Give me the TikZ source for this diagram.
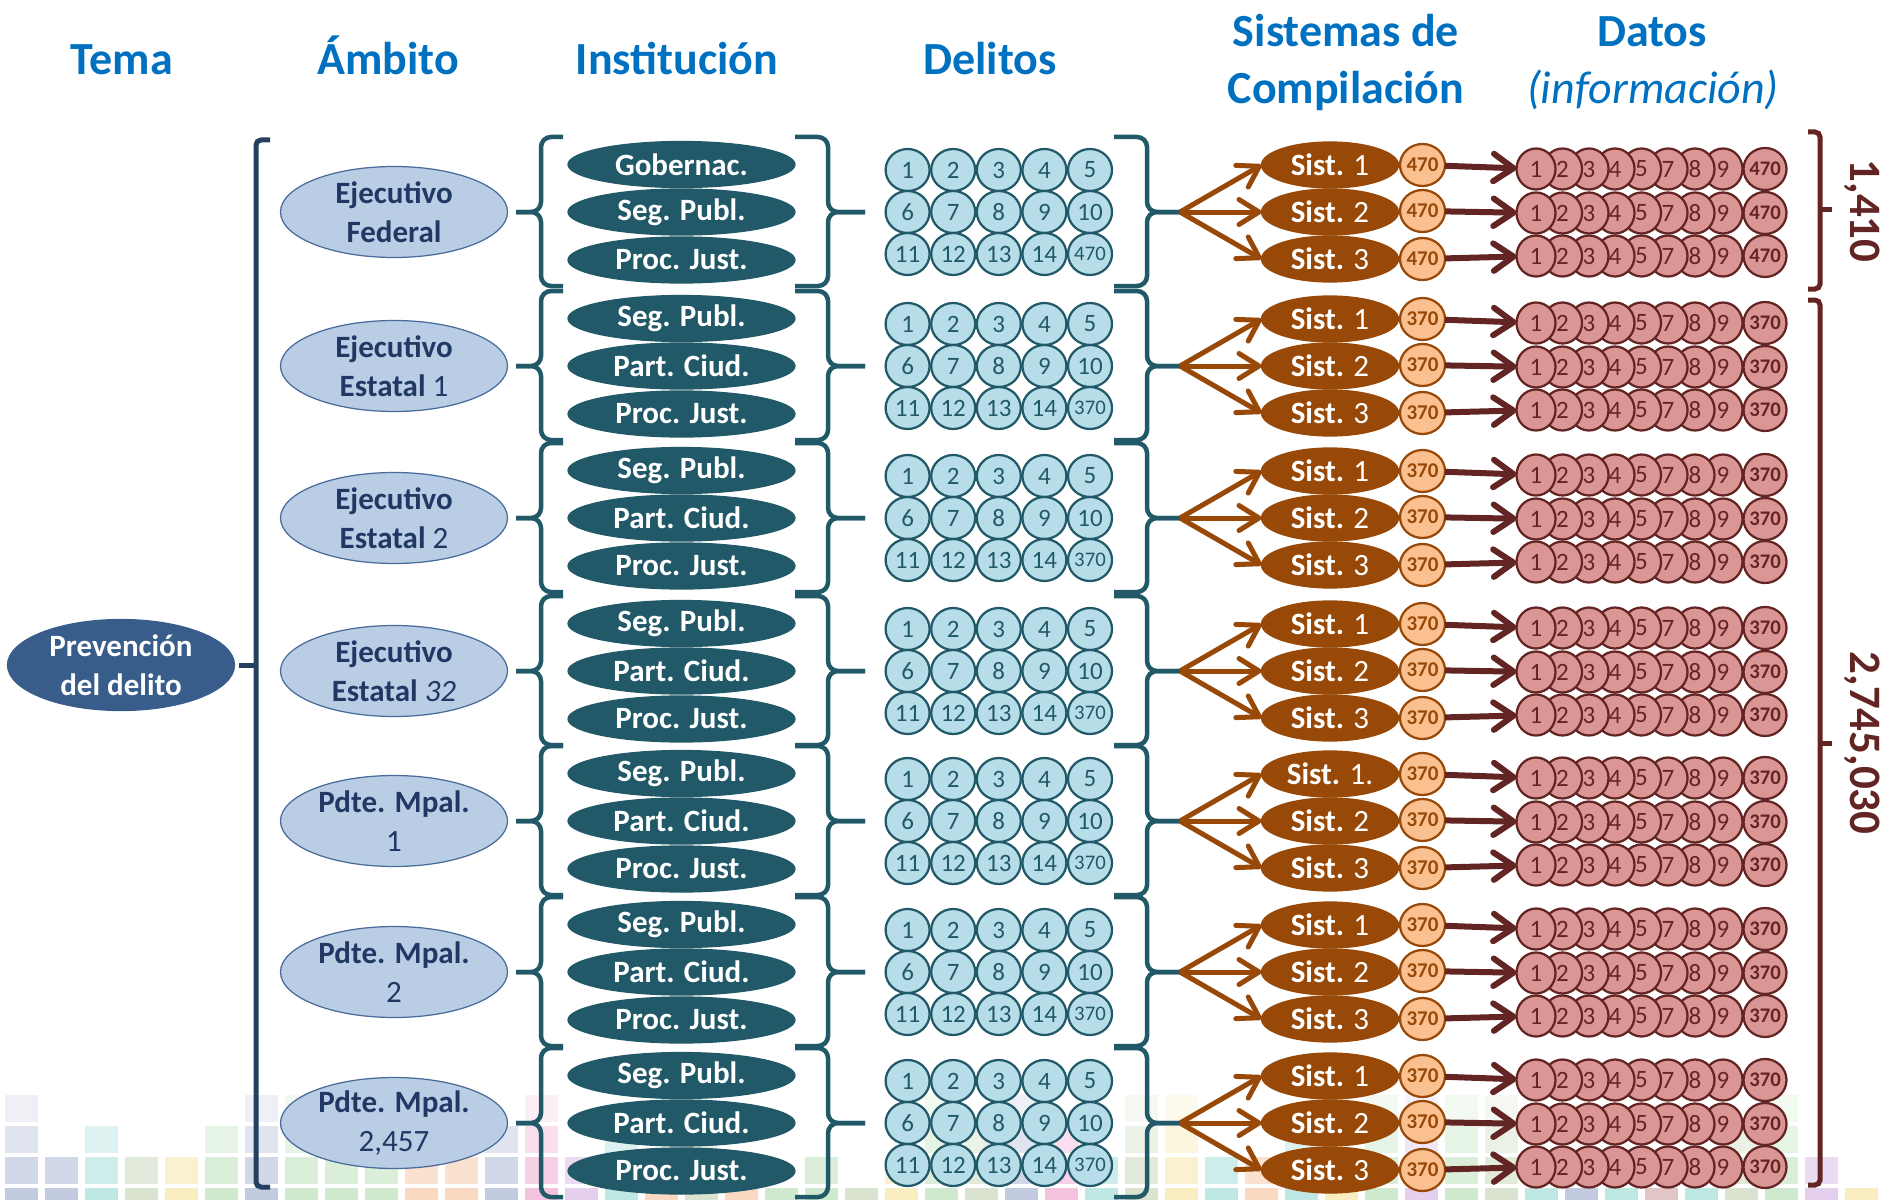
\documentclass[tikz,border=0pt]{standalone}
\usepackage{fontspec}
\setmainfont{Carlito}
\usetikzlibrary{shapes.geometric,arrows.meta}
\definecolor{hdrblue}{HTML}{0070C0}
\definecolor{navy}{HTML}{1F3864}
\definecolor{bignavy}{HTML}{243F60}
\definecolor{ambfill}{HTML}{B9CDE5}
\definecolor{ambline}{HTML}{4A6C9B}
\definecolor{prevfill}{HTML}{385D8A}
\definecolor{instfill}{HTML}{215968}
\definecolor{delfill}{HTML}{B7DEE8}
\definecolor{delline}{HTML}{215968}
\definecolor{sistfill}{HTML}{984807}
\definecolor{orfill}{HTML}{FAC090}
\definecolor{maroon}{HTML}{632523}
\definecolor{datfill}{HTML}{D99694}
\definecolor{mz1}{HTML}{8496C0}
\definecolor{mz2}{HTML}{E884B8}
\definecolor{mz3}{HTML}{9ED39E}
\definecolor{mz4}{HTML}{F4B183}
\definecolor{mz5}{HTML}{C9A0DC}
\definecolor{mz6}{HTML}{7FCFC9}
\definecolor{mz7}{HTML}{F2DC82}
\definecolor{mz8}{HTML}{C48A8A}
\definecolor{mz9}{HTML}{B4C7A0}
\begin{document}
\begin{tikzpicture}[x=0.4pt,y=-0.4pt,
  hdr/.style={text=hdrblue,font=\fontsize{18.4}{22}\selectfont\bfseries,anchor=base,inner sep=0pt},
  ell/.style={ellipse,inner sep=-30pt,outer sep=0pt},
  amb/.style={ell,draw=ambline,line width=0.5pt,fill=ambfill,minimum width=90.8pt,minimum height=36.4pt,
    text=navy,font=\fontsize{12.4}{15.6}\selectfont\bfseries,align=center},
  inst/.style={ell,draw=instfill,line width=0.5pt,fill=instfill,minimum width=90.8pt,minimum height=18.4pt,
    text=white,font=\fontsize{12.4}{14}\selectfont\bfseries},
  del/.style={ell,draw=delline,line width=0.9pt,fill=delfill,minimum width=17.6pt,minimum height=16.8pt,
    text=delline,font=\fontsize{10}{12}\selectfont},
  delsmall/.style={del,font=\fontsize{8.3}{10}\selectfont},
  sist/.style={ell,draw=sistfill,line width=0.5pt,fill=sistfill,minimum width=54.8pt,minimum height=18.4pt,
    text=white,font=\fontsize{12.4}{14}\selectfont\bfseries},
  orn/.style={ell,draw=sistfill,line width=0.9pt,fill=orfill,minimum width=18pt,minimum height=16.8pt,
    text=sistfill,font=\fontsize{8.4}{10}\selectfont\bfseries},
  dat/.style={ell,draw=maroon,line width=0.9pt,fill=datfill,minimum width=15.6pt,minimum height=16.4pt,
    text=maroon,font=\fontsize{10}{12}\selectfont},
  datsmall/.style={dat,minimum width=17.2pt,minimum height=16.8pt,font=\fontsize{8.3}{10}\selectfont\bfseries},
  bigbr/.style={draw=bignavy,line width=2pt,rounded corners=2pt},
  brc/.style={draw=delline,line width=1.8pt,rounded corners=4pt},
  mbr/.style={draw=maroon,line width=2pt,rounded corners=2pt},
  mlab/.style={text=maroon,font=\fontsize{18}{20}\selectfont\bfseries,inner sep=0pt},
  barr/.style={draw=sistfill,line width=2pt,-{Straight Barb[length=8pt,width=10pt,round]}},
  marr/.style={draw=maroon,line width=2.4pt,-{Straight Barb[length=8pt,width=11pt,round]}}
]
\useasboundingbox (0,0) rectangle (1885,1199);
% background mosaic
\pgfmathsetseed{12}
\foreach \i in {0,...,46} {
  \pgfmathrandominteger{\cc}{1}{9}
  \pgfmathrandominteger{\hh}{1}{4}
  \foreach \r in {1,...,4} {
    \ifnum\r>\numexpr4-\hh\relax
      \pgfmathsetmacro{\op}{0.02+0.12*\r}
      \fill[mz\cc,fill opacity=\op] (5+40*\i,1064+31*\r) rectangle ++(33,27);
    \fi
  }
}
% headers
\node[hdr] (hTema) at (122,75) {Tema};
\node[hdr] (hAmb) at (388,75) {Ámbito};
\node[hdr] (hInst) at (677,75) {Institución};
\node[hdr] (hDel) at (990,75) {Delitos};
\node[hdr] (hSisA) at (1346,47) {Sistemas de};
\node[hdr] (hSisB) at (1346,104) {Compilación};
\node[hdr] (hDatA) at (1652,47) {Datos};
\node[hdr,font=\fontsize{18.4}{22}\selectfont\itshape] (hDatB) at (1653,104) {(información)};
% tema
\node[amb,fill=prevfill,draw=prevfill,text=white] (prev) at (121,665) {Prevención\\del delito};
\coordinate (bigmid) at (256,665);
\draw[bigbr] (270,140) -- (256,140) -- (256,1187) -- (270,1187);
\draw[bigbr] (prev.east) ++(1.8pt,0) -- (bigmid);
% groups
\foreach \g/\c/\aA/\aB/\iA/\iB/\n/\sA in {
  1/212/{Ejecutivo}/{Federal}/{Gobernac.}/{Seg. Publ.}/470/{1},
  2/366/{Ejecutivo}/{Estatal \textmd{1}}/{Seg. Publ.}/{Part. Ciud.}/370/{1},
  3/518/{Ejecutivo}/{Estatal \textmd{2}}/{Seg. Publ.}/{Part. Ciud.}/370/{1},
  4/671/{Ejecutivo}/{Estatal \textmd{\itshape 32}}/{Seg. Publ.}/{Part. Ciud.}/370/{1},
  5/821/{Pdte. Mpal.}/{\textmd{1}}/{Seg. Publ.}/{Part. Ciud.}/370/{1.},
  6/972/{Pdte. Mpal.}/{\textmd{2}}/{Seg. Publ.}/{Part. Ciud.}/370/{1},
  7/1123/{Pdte. Mpal.}/{\textmd{2,457}}/{Seg. Publ.}/{Part. Ciud.}/370/{1}} {
  % ambito
  \node[amb] (amb\g) at (394,\c) {\aA\\\aB};
  % institution braces
  \draw[brc] (563,\c-75) -- (541,\c-75) -- (541,\c) -- (516,\c);
  \draw[brc] (563,\c+74) -- (541,\c+74) -- (541,\c) -- (516,\c);
  \draw[brc] (795,\c-75) -- (828,\c-75) -- (828,\c) -- (865,\c);
  \draw[brc] (795,\c+74) -- (828,\c+74) -- (828,\c) -- (865,\c);
  \node[inst] (ins\g-0) at (681.5,\c-47.5) {\iA};
  \node[inst] (ins\g-1) at (681.5,\c) {\iB};
  \node[inst] (ins\g-2) at (681.5,\c+48) {Proc. Just.};
  % delitos
  \foreach \r/\dy in {0/-42,1/0,2/42} {
    \foreach \k in {1,...,5} {
      \pgfmathtruncatemacro{\lab}{\r*5+\k}
      \ifnum\lab=15
        \node[delsmall] (del\g-\r-\k) at (862+45.6*\k,\c+\dy) {\n};
      \else
        \node[del] (del\g-\r-\k) at (862+45.6*\k,\c+\dy) {\lab};
      \fi
    }
  }
  \draw[brc] (1114,\c-75) -- (1147,\c-75) -- (1147,\c) -- (1180,\c);
  \draw[brc] (1114,\c+74) -- (1147,\c+74) -- (1147,\c) -- (1180,\c);
  \coordinate (cusp\g) at (1180,\c);
  % sistemas
  \node[sist] (s\g-0) at (1330,\c-47) {Sist. \textmd{\sA}};
  \node[sist] (s\g-1) at (1330,\c) {Sist. \textmd{2}};
  \node[sist] (s\g-2) at (1330,\c+47) {Sist. \textmd{3}};
  \foreach \r in {0,1,2} {\draw[barr] (cusp\g) -- (s\g-\r.west);}
  % counts and datos
  \foreach \r/\dyo/\dyd in {0/-47/-43,1/-1/1,2/47/44} {
    \node[orn] (o\g-\r) at (1422.5,\c+\dyo) {\n};
    \node[datsmall] (dt\g-\r-9) at (1765,\c+\dyd) {\n};
    \foreach \k/\x/\lb in {8/1723/9,7/1695/8,6/1668/7,5/1641.5/5,4/1615/4,3/1589/3,2/1562.5/2,1/1536/1}
      {\node[dat] (dt\g-\r-\k) at (\x,\c+\dyd) {\lb};}
    \draw[marr] (o\g-\r) -- (dt\g-\r-1);
  }
}
% totals
\draw[mbr] (1808,132) -- (1820,132) -- (1820,289) -- (1808,289);
\draw[mbr] (1820,209) -- (1832,209);
\node[mlab,rotate=-90] (tot1) at (1862,211) {1,410};
\draw[mbr] (1808,300) -- (1820,300) -- (1820,1185) -- (1808,1185);
\draw[mbr] (1820,743) -- (1832,743);
\node[mlab,rotate=-90] (tot2) at (1862,743) {2,745,030};
\end{tikzpicture}
\end{document}
